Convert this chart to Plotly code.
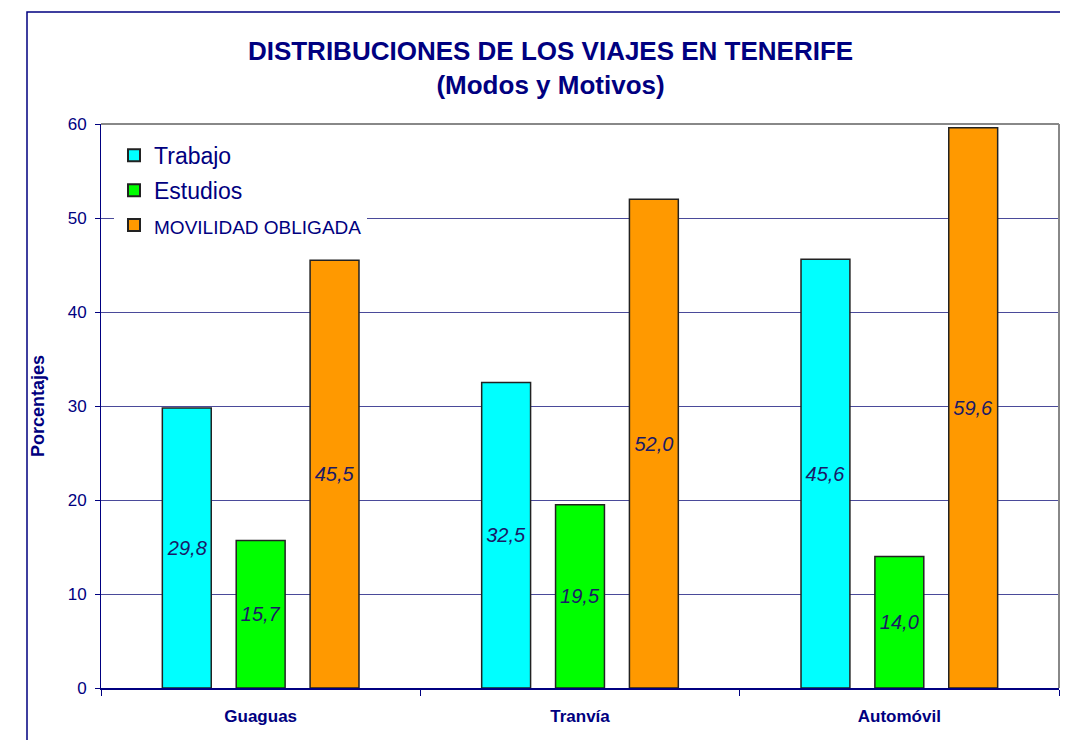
import plotly.graph_objects as go

categories = ["Guaguas", "Tranvía", "Automóvil"]
trabajo = [29.8, 32.5, 45.6]
estudios = [15.7, 19.5, 14.0]
movilidad = [45.5, 52.0, 59.6]
series_names = ["Trabajo", "Estudios", "MOVILIDAD OBLIGADA"]
colors = ["#00FFFF", "#00FF00", "#FF9900"]
y_ticks = [0, 10, 20, 30, 40, 50, 60]

NAVY = "#000080"
FONT = "Liberation Sans, Arial"

def fmt(v):
    return f"{v:.1f}".replace(".", ",")

fig = go.Figure()
legend_names = [
    "<span style='font-size:23px'>Trabajo</span>",
    "<span style='font-size:23px'>Estudios</span>",
    "<span style='font-size:19px'>MOVILIDAD OBLIGADA</span>",
]
for i, (name, lname, vals, col) in enumerate(zip(series_names, legend_names, [trabajo, estudios, movilidad], colors)):
    fig.add_trace(go.Bar(
        x=categories, y=vals, name=lname, legendgroup=f"g{i}",
        marker=dict(color=col, line=dict(color="#222222", width=1.5)),
        text=[fmt(v) for v in vals],
        textposition="inside", insidetextanchor="middle",
        textangle=0,
        textfont=dict(family=FONT, size=20, color="#1a1a66", style="italic"),
        hoverinfo="skip",
    ))

# page is offset by 8px (body margin), so margins compensate
fig.update_layout(
    width=1068, height=740,
    paper_bgcolor="white", plot_bgcolor="white",
    margin=dict(l=93, r=17, t=116, b=60),
    barmode="group", bargap=0.306, bargroupgap=0.338,
    title=dict(
        text="DISTRIBUCIONES DE LOS VIAJES EN TENERIFE<br>(Modos y Motivos)",
        font=dict(family=FONT, size=26, color=NAVY, weight="bold"),
        x=0.508, xanchor="center", y=0.93, yanchor="top",
    ),
    font=dict(family=FONT, color=NAVY),
    showlegend=True,
    legend=dict(
        x=0.0136, y=0.9826, xanchor="left", yanchor="top",
        bgcolor="white", borderwidth=0,
        font=dict(family=FONT, size=23, color=NAVY),
        itemsizing="constant", traceorder="grouped", tracegroupgap=2,
    ),
)

fig.update_yaxes(
    range=[0, 60], tickvals=y_ticks,
    showgrid=True, gridcolor="#4a4a9a", gridwidth=1,
    showline=True, linecolor=NAVY, linewidth=1,
    ticks="outside", ticklen=5, tickcolor=NAVY, ticklabelstandoff=5,
    tickfont=dict(family=FONT, size=17, color=NAVY),
    title=dict(text="Porcentajes", font=dict(family=FONT, size=18, color=NAVY, weight="bold"), standoff=18),
    zeroline=False, automargin=False,
)
fig.update_xaxes(
    showline=True, linecolor=NAVY, linewidth=1.5,
    ticks="outside", tickson="boundaries", ticklen=6, tickcolor=NAVY,
    ticklabelstandoff=12,
    tickfont=dict(family=FONT, size=17, color=NAVY, weight="bold"),
    showgrid=False, automargin=False,
)

# plot area top/right border (gray) and outer chart frame (navy)
fig.add_shape(type="line", xref="paper", yref="paper", x0=0, x1=1, y0=1, y1=1,
              line=dict(color="#888888", width=2), layer="above")
fig.add_shape(type="line", xref="paper", yref="paper", x0=1, x1=1, y0=0, y1=1,
              line=dict(color="#888888", width=2), layer="above")
fig.add_shape(type="rect", xref="paper", yref="paper",
              x0=(27 - 101) / 958, x1=1.1, y0=-0.3, y1=(688 - 12) / 564,
              line=dict(color=NAVY, width=1.5), fillcolor="rgba(0,0,0,0)", layer="above")

fig.write_html("out.html")
